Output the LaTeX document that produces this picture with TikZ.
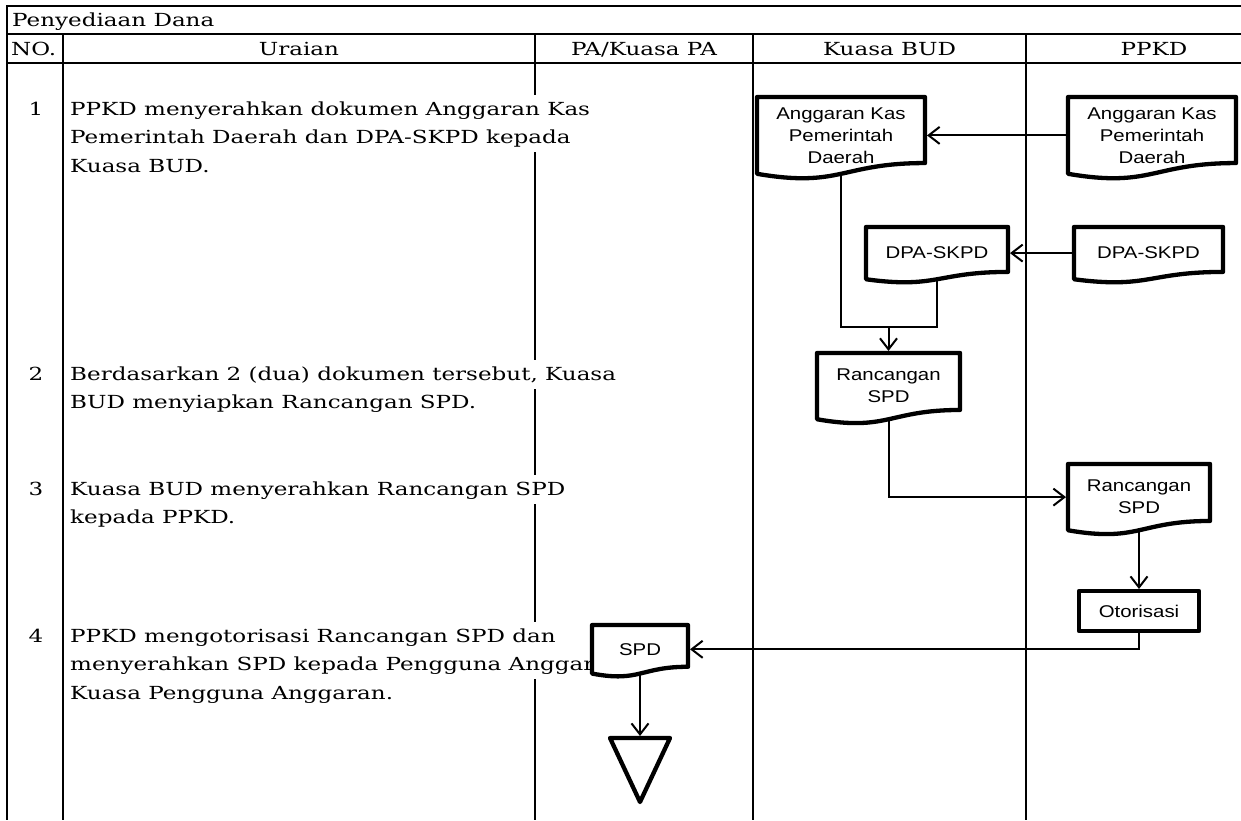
\documentclass[tikz,border=0pt]{standalone}
\usepackage{fontspec}
\setmainfont{DejaVu Serif}[FakeStretch=1.28]
\newfontfamily\sansbox{Liberation Sans}[FakeStretch=1.2]
\usetikzlibrary{arrows.meta, calc}

% baris teks dengan latar putih (menutupi garis kolom)
\newcommand{\baris}[1]{{\setlength{\fboxsep}{0pt}\colorbox{white}{\strut #1}}}

% bingkai simbol dokumen (sisi bawah bergelombang)
\newcommand{\dokumen}[1]{%
  \draw[bingkai] let \p1 = ($(#1.north)-(#1.south)$) in
    (#1.north west) -- (#1.north east)
    -- ($(#1.south east)+(0pt,{0.14*\y1})$)
    .. controls ($(#1.south)+(0pt,{0.14*\y1})$) and ($(#1.south)+(0pt,{-0.187*\y1})$)
    .. (#1.south west) -- cycle;}

\begin{document}
\begin{tikzpicture}[x=1pt, y=-1pt,
    tabel/.style={line width=1.8pt},
    bingkai/.style={line width=4.3pt, line join=round},
    alur/.style={line width=2pt},
    panah/.style={alur, shorten >=2pt, -{Straight Barb[length=11pt, width=17pt]}},
    dok/.style={fill=white, inner sep=0pt, outer sep=0pt, align=center,
        font=\sansbox\fontsize{17}{22}\selectfont},
    proses/.style={draw, bingkai, fill=white, inner sep=0pt, outer sep=0pt,
        minimum width=120pt, minimum height=40pt,
        font=\sansbox\fontsize{17}{22}\selectfont},
    judul/.style={inner sep=0pt, font=\fontsize{18}{22}\selectfont},
    nomor/.style={anchor=base, inner sep=0pt, font=\fontsize{18}{28.5}\selectfont},
    uraian/.style={anchor=north west, inner sep=0pt, align=left,
        font=\fontsize{18}{28.5}\selectfont}]

    \useasboundingbox (0,0) rectangle (1241,820);

    % Kerangka tabel
    \draw[tabel] (1241,6) -- (7,6) -- (7,820);
    \draw[tabel] (7,34) -- (1241,34);
    \draw[tabel] (7,63) -- (1241,63);
    \foreach \x in {63,535,753,1026}
        \draw[tabel] (\x,34) -- (\x,820);

    % Judul dan kepala kolom
    \node[judul, anchor=base west] (judul) at (12,26.5) {Penyediaan Dana};
    \node[judul, anchor=base west] (hNo) at (11,55.5) {NO.};
    \node[judul, anchor=base] (hUraian) at (299,55.5) {Uraian};
    \node[judul, anchor=base] (hPA) at (644,55.5) {PA/Kuasa PA};
    \node[judul, anchor=base] (hBUD) at (889.5,55.5) {Kuasa BUD};
    \node[judul, anchor=base] (hPPKD) at (1154,55.5) {PPKD};

    % Uraian langkah
    \node[nomor] (n1) at (36,115) {1};
    \node[uraian] (u1) at (70,95) {\baris{PPKD menyerahkan dokumen Anggaran Kas}\\
        \baris{Pemerintah Daerah dan DPA-SKPD kepada}\\ \baris{Kuasa BUD.}};
    \node[nomor] (n2) at (36,380) {2};
    \node[uraian] (u2) at (70,360) {\baris{Berdasarkan 2 (dua) dokumen tersebut, Kuasa}\\
        \baris{BUD menyiapkan Rancangan SPD.}};
    \node[nomor] (n3) at (36,495) {3};
    \node[uraian] (u3) at (70,475) {\baris{Kuasa BUD menyerahkan Rancangan SPD}\\
        \baris{kepada PPKD.}};
    \node[nomor] (n4) at (36,642) {4};
    \node[uraian] (u4) at (70,622) {\baris{PPKD mengotorisasi Rancangan SPD dan}\\
        \baris{menyerahkan SPD kepada Pengguna Anggar}\\ \baris{Kuasa Pengguna Anggaran.}};

    % Simbol dokumen
    \node[dok, minimum width=168pt, minimum height=76.8pt] (akpdB) at (841,135.4)
        {Anggaran Kas\\Pemerintah\\Daerah};
    \node[dok, minimum width=168pt, minimum height=76.8pt] (akpdP) at (1152,135.4)
        {Anggaran Kas\\Pemerintah\\Daerah};
    \node[dok, minimum width=142pt, minimum height=52.3pt] (dpaB) at (937,253.1) {DPA-SKPD};
    \node[dok, minimum width=149pt, minimum height=52.3pt] (dpaP) at (1148.5,253.1) {DPA-SKPD};
    \node[dok, minimum width=143pt, minimum height=66.3pt] (rspdB) at (888.5,386.1) {Rancangan\\SPD};
    \node[dok, minimum width=142pt, minimum height=66.3pt] (rspdP) at (1139,497.1) {Rancangan\\SPD};
    \node[proses] (otor) at (1139,611) {Otorisasi};
    \node[dok, minimum width=96pt, minimum height=48.5pt] (spd) at (640,649.3) {SPD};
    \node[inner sep=0pt, outer sep=0pt, minimum width=60pt, minimum height=64pt] (akhir) at (640,770) {};

    \dokumen{akpdB}
    \dokumen{akpdP}
    \dokumen{dpaB}
    \dokumen{dpaP}
    \dokumen{rspdB}
    \dokumen{rspdP}
    \dokumen{spd}
    \draw[bingkai] (akhir.north west) -- (akhir.north east) -- (akhir.south) -- cycle;

    % Alur
    \coordinate (gabung) at (888.5,327);
    \draw[panah] (akpdP.west) -- (akpdB.east);
    \draw[panah] (dpaP.west) -- (dpaB.east);
    \draw[alur] (akpdB.south) |- (gabung);
    \draw[alur] (dpaB.south) |- (gabung);
    \draw[panah] (gabung) -- (rspdB.north);
    \draw[panah] (rspdB.south) |- (rspdP.west);
    \draw[panah] (rspdP.south) -- (otor.north);
    \draw[panah] (otor.south) |- (spd.east);
    \draw[panah] (spd.south) -- (akhir.north);
\end{tikzpicture}
\end{document}
